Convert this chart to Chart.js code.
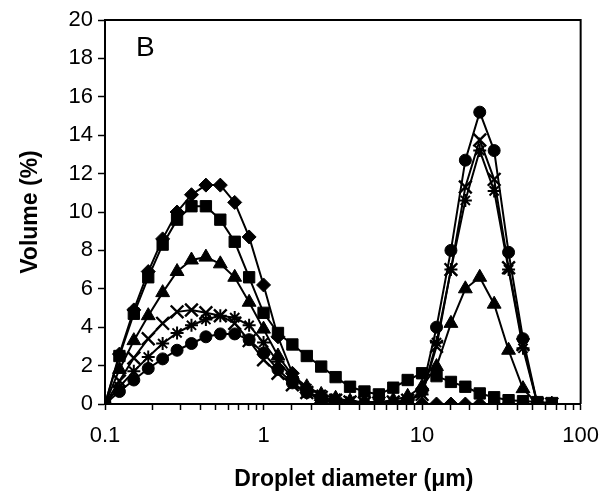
<!DOCTYPE html>
<html>
<head>
<meta charset="utf-8">
<script src="https://cdn.jsdelivr.net/npm/chart.js@4.4.1/dist/chart.umd.min.js"></script>
<style>
html,body{margin:0;padding:0;background:#fff;}
canvas{display:block;}
</style>
</head>
<body>
<canvas id="c" width="612" height="498"></canvas>
<script>
// Droplet diameter bins (µm)
const diameters = [0.1, 0.1233, 0.152, 0.1874, 0.231, 0.2848, 0.3511, 0.4329, 0.5337, 0.6579, 0.8111,
  1.0, 1.233, 1.52, 1.874, 2.31, 2.848, 3.511, 4.329, 5.337, 6.579, 8.111,
  10.0, 12.33, 15.2, 18.74, 23.1, 28.48, 35.11, 43.29, 53.37, 65.79];

// Volume (%) series
const diamondSeries = [0, 2.6, 4.9, 6.9, 8.6, 10.0, 10.9, 11.4, 11.4, 10.5, 8.7, 6.2, 3.5, 1.6, 0.6, 0.2, 0.05,
  0, 0, 0, 0, 0, 0, 0, 0, 0, 0, 0, 0, 0, 0, 0];
const squareSeries = [0, 2.5, 4.7, 6.6, 8.3, 9.6, 10.3, 10.3, 9.6, 8.45, 6.6, 4.75, 3.7, 3.1, 2.5, 1.95, 1.4,
  0.9, 0.65, 0.5, 0.85, 1.25, 1.6, 1.45, 1.15, 0.9, 0.55, 0.35, 0.2, 0.15, 0.1, 0.05];
const triangleSeries = [0, 1.8, 3.3, 4.6, 5.8, 6.9, 7.5, 7.65, 7.3, 6.6, 5.3, 3.9, 2.5, 1.5, 0.9, 0.5, 0.3,
  0.15, 0.1, 0.1, 0.2, 0.4, 0.9, 1.95, 4.2, 6.0, 6.6, 5.2, 2.8, 0.8, 0, 0];
const crossSeries = [0, 1.2, 2.4, 3.4, 4.2, 4.8, 4.9, 4.75, 4.6, 4.2, 3.3, 2.3, 1.6, 1.0, 0.6, 0.35, 0.2,
  0.1, 0.05, 0.05, 0.1, 0.2, 0.5, 3.0, 7.0, 11.3, 13.75, 11.7, 7.1, 3.1, 0, 0];
const starSeries = [0, 0.9, 1.7, 2.45, 3.15, 3.7, 4.1, 4.4, 4.6, 4.5, 4.1, 3.2, 2.2, 1.4, 0.8, 0.5, 0.3,
  0.15, 0.05, 0.05, 0.1, 0.2, 0.5, 3.2, 7.0, 10.6, 13.2, 11.1, 7.0, 2.9, 0, 0];
const circleSeries = [0, 0.65, 1.25, 1.85, 2.35, 2.8, 3.15, 3.5, 3.65, 3.65, 3.35, 2.65, 1.8, 1.1, 0.6, 0.3, 0.1,
  0, 0, 0, 0, 0.1, 0.7, 4.0, 8.0, 12.7, 15.2, 13.2, 7.9, 3.4, 0, 0];

const yTicks = [0, 2, 4, 6, 8, 10, 12, 14, 16, 18, 20];
const xTickLabels = [0.1, 1, 10, 100];
const panelLabel = 'B';
const xTitle = 'Droplet diameter (\u03bcm)';
const yTitle = 'Volume (%)';

function pts(arr) { return arr.map((v, i) => ({x: diameters[i], y: v})); }

function ds(label, arr, style, radius, bw) {
  return {
    label: label,
    data: pts(arr),
    borderColor: '#000',
    backgroundColor: '#000',
    borderWidth: 2,
    pointStyle: style,
    pointRadius: radius,
    pointBorderWidth: bw,
    pointBackgroundColor: '#000',
    pointBorderColor: '#000',
    tension: 0,
    fill: false
  };
}

const FONT = "'Liberation Sans', Arial, Helvetica, sans-serif";

const framePlugin = {
  id: 'frame',
  afterDatasetsDraw(chart) {
    const {ctx, chartArea: a} = chart;
    ctx.save();
    ctx.strokeStyle = '#000';
    ctx.lineWidth = 2;
    ctx.beginPath();
    ctx.moveTo(a.left, a.top);
    ctx.lineTo(a.right, a.top);
    ctx.lineTo(a.right, a.bottom);
    ctx.stroke();
    ctx.fillStyle = '#000';
    ctx.font = '28px ' + FONT;
    ctx.textBaseline = 'middle';
    ctx.textAlign = 'left';
    ctx.fillText(panelLabel, a.left + 31, a.top + 28);
    // x-axis title
    ctx.font = 'bold 23px ' + FONT;
    ctx.textAlign = 'center';
    ctx.fillText(xTitle, (a.left + a.right) / 2 + 11, a.bottom + 76);
    ctx.restore();
  }
};

new Chart(document.getElementById('c'), {
  type: 'line',
  data: {
    datasets: [
      ds('diamond', diamondSeries, 'rectRot', 7, 1),
      ds('square', squareSeries, 'rect', 8, 1),
      ds('triangle', triangleSeries, 'triangle', 8, 1),
      ds('cross', crossSeries, 'crossRot', 9, 2.4),
      ds('star', starSeries, 'star', 6.5, 2),
      ds('circle', circleSeries, 'circle', 6, 1)
    ]
  },
  options: {
    responsive: false,
    animation: false,
    devicePixelRatio: 1,
    layout: {padding: {top: 20, right: 30, left: 0, bottom: 0}},
    plugins: {legend: {display: false}, tooltip: {enabled: false}},
    scales: {
      x: {
        type: 'logarithmic',
        min: 0.1,
        max: 100,
        afterFit(s) { s.height = 94; },
        border: {display: true, color: '#000', width: 2},
        grid: {drawOnChartArea: false, drawTicks: true, tickLength: 6, tickColor: '#000', tickWidth: 1.5},
        ticks: {
          autoSkip: false,
          maxRotation: 0,
          color: '#000',
          padding: 13,
          font: {family: FONT, size: 22},
          callback(v) {
            const hit = xTickLabels.find(t => Math.abs(t - v) < 1e-9 * Math.max(1, t));
            return hit !== undefined ? String(hit) : '';
          }
        },
        title: {display: false}
      },
      y: {
        min: 0,
        max: 20,
        afterFit(s) { s.width = 105; },
        afterBuildTicks(s) { s.ticks = yTicks.map(v => ({value: v})); },
        border: {display: true, color: '#000', width: 2},
        grid: {drawOnChartArea: false, drawTicks: true, tickLength: 7, tickColor: '#000', tickWidth: 1.5},
        ticks: {color: '#000', padding: 5, font: {family: FONT, size: 22}},
        title: {display: true, text: yTitle, color: '#000', font: {family: FONT, size: 23, weight: 'bold'}, padding: {top: 17, bottom: 0}}
      }
    }
  },
  plugins: [framePlugin]
});
</script>
</body>
</html>
